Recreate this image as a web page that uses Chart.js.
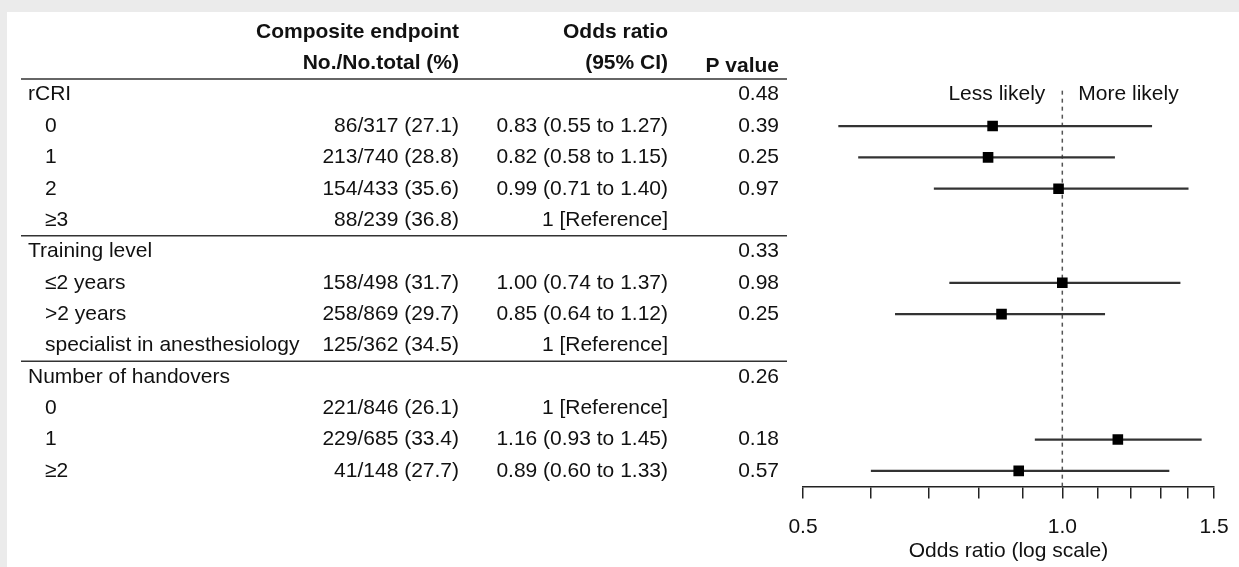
<!DOCTYPE html>
<html>
<head>
<meta charset="utf-8">
<script src="https://cdn.jsdelivr.net/npm/chart.js@4.4.1/dist/chart.umd.min.js"></script>
<style>
html,body{margin:0;padding:0;background:#fff;}
#wrap{width:1239px;height:567px;position:relative;}
canvas{display:block;}
</style>
</head>
<body>
<div id="wrap"><canvas id="c" width="1239" height="567"></canvas></div>
<script>
// ---- data ----
const rowLabels = ['rCRI','0','1','2','≥3','Training level','≤2 years','>2 years','specialist in anesthesiology','Number of handovers','0','1','≥2'];
const rowIsGroup = [true,false,false,false,false,true,false,false,false,true,false,false,false];
const eventCounts = ['','86/317 (27.1)','213/740 (28.8)','154/433 (35.6)','88/239 (36.8)','','158/498 (31.7)','258/869 (29.7)','125/362 (34.5)','','221/846 (26.1)','229/685 (33.4)','41/148 (27.7)'];
const orTexts = ['','0.83 (0.55 to 1.27)','0.82 (0.58 to 1.15)','0.99 (0.71 to 1.40)','1 [Reference]','','1.00 (0.74 to 1.37)','0.85 (0.64 to 1.12)','1 [Reference]','','1 [Reference]','1.16 (0.93 to 1.45)','0.89 (0.60 to 1.33)'];
const pValues = ['0.48','0.39','0.25','0.97','','0.33','0.98','0.25','','0.26','','0.18','0.57'];
const oddsRatio = [null,0.83,0.82,0.99,null,null,1.00,0.85,null,null,null,1.16,0.89];
const ciLower = [null,0.55,0.58,0.71,null,null,0.74,0.64,null,null,null,0.93,0.60];
const ciUpper = [null,1.27,1.15,1.40,null,null,1.37,1.12,null,null,null,1.45,1.33];
const tickValues = [0.5,0.6,0.7,0.8,0.9,1.0,1.1,1.2,1.3,1.4,1.5];
const labeledTicks = [0.5,1.0,1.5];
const headerLine1 = ['Composite endpoint','Odds ratio',''];
const headerLine2 = ['No./No.total (%)','(95% CI)','P value'];
const refValue = 1.0;
const sectionBreaks = [4.5, 8.5];

// ---- styling ----
const FONT_FAMILY = '"Liberation Sans", Arial, Helvetica, sans-serif';
const FS = 21;
const TXT = '#111';
const COL_X = {label: 28, indent: 45, counts: 459, or: 668, p: 779, lineL: 21, lineR: 787};

const tablePlugin = {
  id: 'tablePlugin',
  beforeDraw(chart) {
    const ctx = chart.ctx;
    ctx.save();
    ctx.fillStyle = '#ebebeb';
    ctx.fillRect(0, 0, chart.width, chart.height);
    ctx.fillStyle = '#ffffff';
    ctx.fillRect(7, 12, chart.width - 7, chart.height - 12);
    ctx.restore();
  },
  beforeDatasetsDraw(chart) {
    const ctx = chart.ctx;
    const xs = chart.scales.x, ys = chart.scales.y;
    const xr = xs.getPixelForValue(refValue);
    ctx.save();
    ctx.strokeStyle = '#555';
    ctx.lineWidth = 1.5;
    ctx.setLineDash([4, 4]);
    ctx.beginPath();
    ctx.moveTo(xr, ys.getPixelForValue(0) - 4);
    ctx.lineTo(xr, chart.chartArea.bottom);
    ctx.stroke();
    ctx.restore();
  },
  afterDraw(chart) {
    const ctx = chart.ctx;
    const xs = chart.scales.x, ys = chart.scales.y;
    ctx.save();
    ctx.fillStyle = TXT;
    ctx.textBaseline = 'middle';
    // headers
    ctx.font = 'bold ' + FS + 'px ' + FONT_FAMILY;
    ctx.textAlign = 'right';
    const yh1 = ys.getPixelForValue(-2), yh2 = ys.getPixelForValue(-1);
    ctx.fillText(headerLine1[0], COL_X.counts, yh1);
    ctx.fillText(headerLine1[1], COL_X.or, yh1);
    ctx.fillText(headerLine2[0], COL_X.counts, yh2);
    ctx.fillText(headerLine2[1], COL_X.or, yh2);
    ctx.fillText(headerLine2[2], COL_X.p, yh2 + 3);
    // rows
    ctx.font = FS + 'px ' + FONT_FAMILY;
    rowLabels.forEach((lab, i) => {
      const y = ys.getPixelForValue(i);
      ctx.textAlign = 'left';
      ctx.fillText(lab, rowIsGroup[i] ? COL_X.label : COL_X.indent, y);
      ctx.textAlign = 'right';
      ctx.fillText(eventCounts[i], COL_X.counts, y);
      ctx.fillText(orTexts[i], COL_X.or, y);
      ctx.fillText(pValues[i], COL_X.p, y);
    });
    // direction labels
    const xr = xs.getPixelForValue(refValue);
    const y0 = ys.getPixelForValue(0);
    ctx.textAlign = 'right';
    ctx.fillText('Less likely', xr - 17, y0);
    ctx.textAlign = 'left';
    ctx.fillText('More likely', xr + 16, y0);
    // lines
    ctx.strokeStyle = '#333';
    ctx.lineWidth = 1.5;
    const lineYs = [ys.getPixelForValue(-0.5)].concat(sectionBreaks.map(v => ys.getPixelForValue(v)));
    lineYs.forEach(ly => {
      ctx.beginPath();
      ctx.moveTo(COL_X.lineL, ly);
      ctx.lineTo(COL_X.lineR, ly);
      ctx.stroke();
    });
    ctx.restore();
  }
};

new Chart(document.getElementById('c'), {
  type: 'bar',
  data: {
    labels: rowLabels,
    datasets: [
      {
        type: 'line',
        label: 'Odds ratio',
        data: oddsRatio,
        showLine: false,
        pointStyle: 'rect',
        pointRadius: 7.5,
        pointHoverRadius: 7.5,
        pointBackgroundColor: '#000',
        pointBorderColor: '#000',
        pointBorderWidth: 0,
        order: 0
      },
      {
        type: 'bar',
        label: '95% CI',
        data: ciLower.map((l, i) => l == null ? null : [l, ciUpper[i]]),
        backgroundColor: '#333',
        borderWidth: 0,
        barThickness: 1.6,
        order: 1
      }
    ]
  },
  options: {
    indexAxis: 'y',
    responsive: false,
    animation: false,
    events: [],
    layout: {padding: {left: 803, right: 25, top: 79, bottom: 3}},
    plugins: {legend: {display: false}, tooltip: {enabled: false}, title: {display: false}},
    scales: {
      y: {
        type: 'category',
        display: false,
        offset: true
      },
      x: {
        type: 'logarithmic',
        position: 'bottom',
        min: 0.5,
        max: 1.5,
        afterBuildTicks: (s) => { s.ticks = tickValues.map(v => ({value: v})); },
        afterFit: (s) => { s.paddingLeft = 0; s.paddingRight = 0; },
        ticks: {
          autoSkip: false,
          maxRotation: 0,
          padding: 16,
          color: TXT,
          font: {family: FONT_FAMILY, size: FS},
          callback: (v) => labeledTicks.some(t => Math.abs(t - v) < 1e-9) ? Number(v).toFixed(1) : ''
        },
        grid: {drawOnChartArea: false, drawTicks: true, tickLength: 12, color: '#222', lineWidth: 1.5},
        border: {display: true, color: '#222', width: 1.5},
        title: {display: true, text: 'Odds ratio (log scale)', color: TXT, font: {family: FONT_FAMILY, size: FS}, padding: {top: -17, bottom: 0}}
      }
    }
  },
  plugins: [tablePlugin]
});
</script>
</body>
</html>
